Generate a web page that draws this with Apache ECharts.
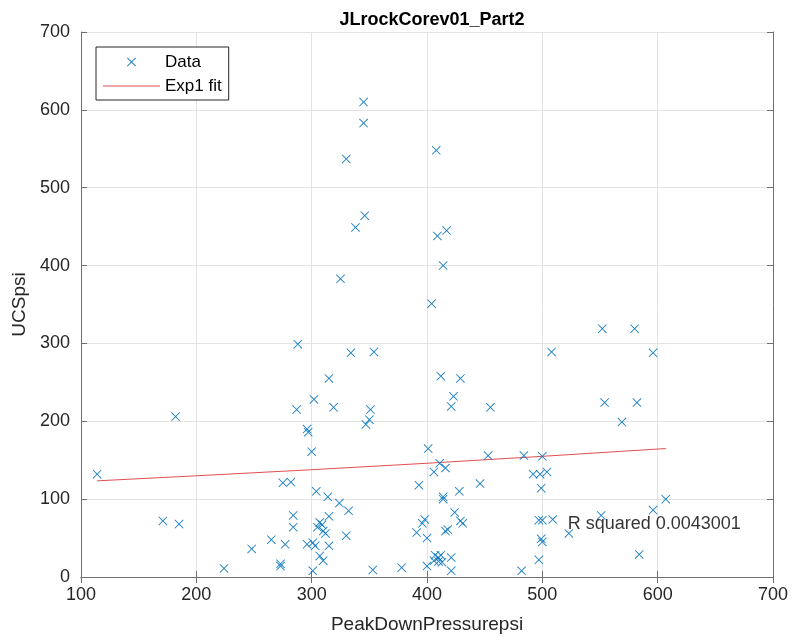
<!DOCTYPE html>
<html>
<head>
<meta charset="utf-8">
<title>JLrockCorev01_Part2</title>
<script src="https://cdn.jsdelivr.net/npm/echarts@6/dist/echarts.min.js"></script>
<style>
  html, body { margin: 0; padding: 0; background: #fff; }
  #chart { width: 796px; height: 644px; }
</style>
</head>
<body>
<div id="chart"></div>
<script>
// Peak down pressure (psi) of each sample
const peakDownPressure = [
  345, 345, 408, 330, 346, 338, 417, 409, 414, 325, 404,
  288, 334, 354, 315, 302, 287, 319, 351, 350, 347, 296, 297, 300, 275, 282, 182, 114,
  412, 429, 423, 421, 455, 401, 411, 406, 416, 393, 428, 414, 414, 453, 484, 446,
  508, 552, 580, 596, 554, 582, 569, 500, 492, 498, 504, 499,
  304, 314, 324, 332, 284, 284, 315, 307, 309, 305, 310, 312, 330, 277, 296, 301, 303, 315,
  307, 310, 273, 273, 301, 353, 378, 171, 185, 248, 265, 224,
  424, 429, 431, 398, 396, 391, 400, 416, 418, 407, 410, 412, 406, 410, 413, 421, 400, 421,
  497, 500, 509, 551, 523, 499, 500, 497, 482, 607, 596, 584
];
// Unconfined compressive strength (psi) of each sample
const ucs = [
  610, 583, 548, 537, 464, 449, 445, 438, 400, 383, 351,
  299, 288, 289, 255, 228, 215, 218, 215, 202, 196, 190, 186, 161, 121, 122, 206, 132,
  258, 255, 232, 219, 218, 165, 146, 135, 140, 118, 110, 103, 100, 156, 156, 120,
  289, 319, 319, 288, 224, 224, 199, 155, 132, 132, 135, 114,
  110, 103, 95, 85, 79, 64, 78, 70, 67, 64, 59, 56, 53, 42, 42, 44, 40, 40,
  27, 21, 17, 14, 8, 9, 12, 72, 68, 36, 48, 11,
  83, 72, 69, 74, 69, 57, 50, 59, 61, 28, 25, 28, 21, 20, 19, 25, 14, 8,
  73, 73, 74, 79, 56, 49, 45, 22, 8, 100, 86, 29
];

// Exp1 fit curve, sampled across the pressure range
const fitPressure = [114, 200, 300, 400, 500, 607];
const fitUcs = [123.5, 130, 137.8, 146.1, 155, 165];

// Goodness-of-fit annotation and its anchor (data units)
const rSquaredText = 'R squared 0.0043001';
const rSquaredAnchor = [522, 68];

const xTicks = { min: 100, max: 700, step: 100 };
const yTicks = { min: 0, max: 700, step: 100 };

const scatterData = peakDownPressure.map((p, i) => [p, ucs[i]]);
const fitData = fitPressure.map((p, i) => [p, fitUcs[i]]);

const FONT = '"Liberation Sans", Arial, Helvetica, sans-serif';
const AXIS_COLOR = '#6f6f6f';
const TEXT_COLOR = '#262626';
const BLUE = '#0072BD';
const FIT_RED = '#e05050';
// thin filled "x" glyph
const CROSS = 'path://M0,0.7L0.7,0L5,4.3L9.3,0L10,0.7L5.7,5L10,9.3L9.3,10L5,5.7L0.7,10L0,9.3L4.3,5Z';
// thin horizontal bar used as the fit's legend sample
const FIT_SAMPLE = 'path://M0,0L57,0L57,1L0,1Z';

function axisBase(showLabels) {
  return {
    axisLine: { show: true, lineStyle: { color: AXIS_COLOR, width: 1 } },
    axisTick: { show: true, inside: true, length: 6, lineStyle: { color: AXIS_COLOR } },
    axisLabel: {
      show: showLabels, color: TEXT_COLOR, fontFamily: FONT, fontSize: 18
    },
    splitLine: { show: showLabels, lineStyle: { color: '#e3e3e3', width: 1 } }
  };
}

const chart = echarts.init(document.getElementById('chart'), null, { renderer: 'canvas' });

chart.setOption({
  animation: false,
  backgroundColor: '#ffffff',
  title: {
    text: 'JLrockCorev01_Part2',
    left: 427, top: 6, textAlign: 'center',
    textStyle: { fontFamily: FONT, fontSize: 18, fontWeight: 'bold', color: '#000' }
  },
  grid: { left: 81, right: 23, top: 32, bottom: 67, containLabel: false },
  legend: {
    data: [
      { name: 'Data', icon: CROSS, itemStyle: { color: BLUE } },
      { name: 'Exp1 fit', icon: FIT_SAMPLE, itemStyle: { color: FIT_RED } }
    ],
    orient: 'vertical',
    left: 96, top: 47,
    padding: [6, 7, 5, 7],
    itemWidth: 57, itemHeight: 9, itemGap: 6,
    symbolKeepAspect: true,
    borderColor: '#262626', borderWidth: 1,
    backgroundColor: '#fff',
    textStyle: { fontFamily: FONT, fontSize: 17, color: '#000', lineHeight: 18 }
  },
  xAxis: [
    Object.assign(axisBase(true), {
      type: 'value', position: 'bottom',
      min: xTicks.min, max: xTicks.max, interval: xTicks.step,
      name: 'PeakDownPressurepsi', nameLocation: 'middle', nameGap: 38,
      nameTextStyle: { fontFamily: FONT, fontSize: 19, color: TEXT_COLOR },
      axisLabel: { color: TEXT_COLOR, fontFamily: FONT, fontSize: 18, margin: 9 }
    }),
    Object.assign(axisBase(false), {
      type: 'value', position: 'top',
      min: xTicks.min, max: xTicks.max, interval: xTicks.step
    })
  ],
  yAxis: [
    Object.assign(axisBase(true), {
      type: 'value', position: 'left',
      min: yTicks.min, max: yTicks.max, interval: yTicks.step,
      name: 'UCSpsi', nameLocation: 'middle', nameGap: 52,
      nameTextStyle: { fontFamily: FONT, fontSize: 19, color: TEXT_COLOR },
      axisLabel: { color: TEXT_COLOR, fontFamily: FONT, fontSize: 18, margin: 11 }
    }),
    Object.assign(axisBase(false), {
      type: 'value', position: 'right',
      min: yTicks.min, max: yTicks.max, interval: yTicks.step
    })
  ],
  series: [
    {
      name: 'Data',
      type: 'scatter',
      data: scatterData,
      symbol: CROSS,
      symbolSize: 9,
      itemStyle: { color: BLUE, opacity: 0.9 },
      z: 3
    },
    {
      name: 'Exp1 fit',
      type: 'line',
      data: fitData,
      showSymbol: false,
      symbol: 'none',
      itemStyle: { color: FIT_RED },
      lineStyle: { color: FIT_RED, width: 1 },
      z: 2
    },
    {
      name: 'rsq',
      type: 'scatter',
      data: [rSquaredAnchor],
      symbolSize: 0,
      silent: true,
      label: {
        show: true, position: 'right', distance: 0,
        formatter: rSquaredText,
        fontFamily: FONT, fontSize: 18, color: '#000'
      },
      z: 4
    }
  ]
});
</script>
</body>
</html>
